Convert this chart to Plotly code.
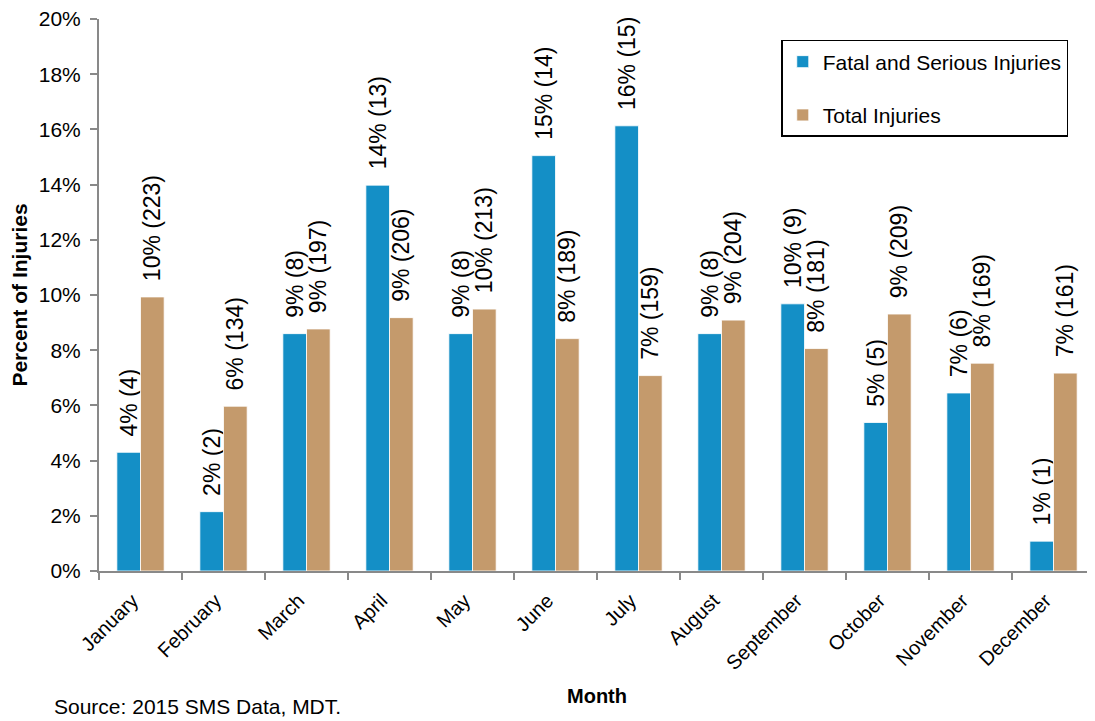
import plotly.graph_objects as go

months = ["January", "February", "March", "April", "May", "June", "July",
          "August", "September", "October", "November", "December"]

# Bar heights (percent of injuries)
fsi_pct = [4.30, 2.15, 8.60, 13.98, 8.60, 15.05, 16.13, 8.60, 9.68, 5.38, 6.45, 1.08]
total_pct = [9.93, 5.97, 8.77, 9.18, 9.49, 8.42, 7.08, 9.09, 8.06, 9.31, 7.53, 7.17]

# Label values as printed on the chart
fsi_label_pct = [4, 2, 9, 14, 9, 15, 16, 9, 10, 5, 7, 1]
fsi_counts = [4, 2, 8, 13, 8, 14, 15, 8, 9, 5, 6, 1]
total_label_pct = [10, 6, 9, 9, 10, 8, 7, 9, 8, 9, 8, 7]
total_counts = [223, 134, 197, 206, 213, 189, 159, 204, 181, 209, 169, 161]

y_ticks = [0, 2, 4, 6, 8, 10, 12, 14, 16, 18, 20]

BLUE = "#148FC6"
TAN = "#C49A6C"
AXIS = "#898989"
FONT = "Liberation Sans, Arial, sans-serif"
PAD = "\u00a0\u00a0"

fsi_text = [f"{PAD}{p}% ({c})" for p, c in zip(fsi_label_pct, fsi_counts)]
total_text = [f"{PAD}{p}% ({c})" for p, c in zip(total_label_pct, total_counts)]

fig = go.Figure()
fig.add_trace(go.Bar(
    x=months, y=fsi_pct, name="Fatal and Serious Injuries",
    marker=dict(color=BLUE, line=dict(color="rgba(255,255,255,0.8)", width=1)),
    text=fsi_text, textposition="outside", textangle=-90,
    textfont=dict(family=FONT, size=23, color="#000000"),
    constraintext="none", cliponaxis=False, legendgroup="a",
    hoverinfo="skip",
))
fig.add_trace(go.Bar(
    x=months, y=total_pct, name="Total Injuries",
    marker=dict(color=TAN, line=dict(color="rgba(255,255,255,0.8)", width=1)),
    text=total_text, textposition="outside", textangle=-90,
    textfont=dict(family=FONT, size=23, color="#000000"),
    constraintext="none", cliponaxis=False, legendgroup="b",
    hoverinfo="skip",
))

# The page body adds an 8px margin, so the figure is 8px smaller than the window
fig.update_layout(
    width=1087, height=713,
    margin=dict(l=91, r=0, t=11, b=150),
    paper_bgcolor="white", plot_bgcolor="white",
    font=dict(family=FONT, size=20, color="#000000"),
    barmode="group", bargap=0.43, bargroupgap=0,
    showlegend=True,
    legend=dict(
        x=0.685, y=0.962, xanchor="left", yanchor="top",
        bordercolor="#000000", borderwidth=1.5, bgcolor="white",
        font=dict(family=FONT, size=21, color="#000000"),
        tracegroupgap=23, traceorder="grouped",
    ),
    xaxis=dict(
        type="category", tickangle=-45, showline=True, linecolor=AXIS,
        linewidth=2, ticks="outside", tickson="boundaries", ticklen=7,
        tickcolor=AXIS, tickwidth=2, showgrid=False, automargin=False,
        ticklabelstandoff=8, ticklabelshift=-8, ticklabeloverflow="allow",
        tickfont=dict(family=FONT, size=20, color="#000000"),
        title=dict(text="<b>Month</b>", font=dict(family=FONT, size=20), standoff=16),
    ),
    yaxis=dict(
        range=[0, 20], tickvals=y_ticks, ticktext=[f"{v}%" for v in y_ticks],
        showline=True, linecolor=AXIS, linewidth=2, ticks="outside",
        ticklen=7, tickcolor=AXIS, tickwidth=2, showgrid=False,
        zeroline=False, automargin=False, ticklabelstandoff=5,
        ticklabeloverflow="allow",
        tickfont=dict(family=FONT, size=21, color="#000000"),
        title=dict(text="<b>Percent of Injuries</b>", font=dict(family=FONT, size=21), standoff=20),
    ),
    annotations=[dict(
        text="Source: 2015 SMS Data, MDT.", xref="paper", yref="paper",
        x=-0.0472, y=-0.2446, xanchor="left", yanchor="middle", showarrow=False,
        font=dict(family=FONT, size=21, color="#000000"),
    )],
)

fig.write_html("out.html")
